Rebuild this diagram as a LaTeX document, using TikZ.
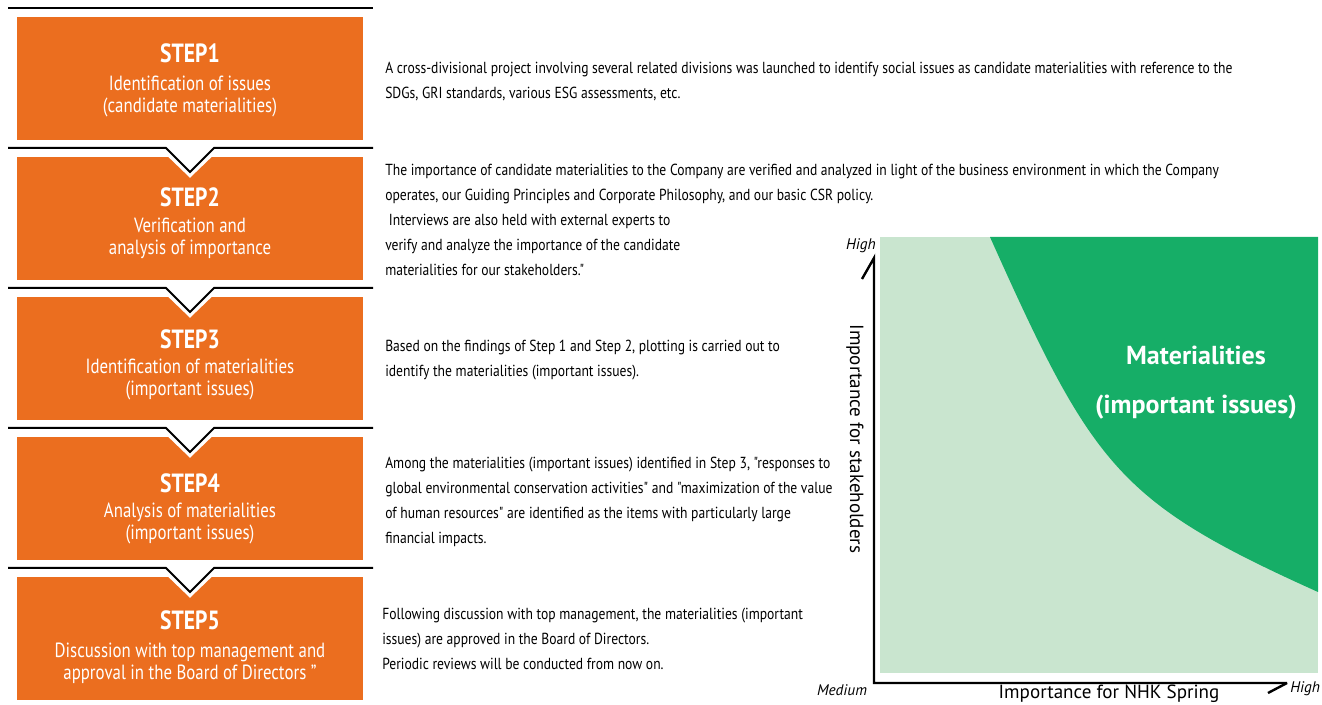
\documentclass[tikz,border=0pt]{standalone}
\usepackage{fontspec}
\setmainfont{PT Sans}[FakeStretch=0.82]
\newfontfamily\descfont{PT Sans}[FakeStretch=0.85]
\newfontfamily\axisfont{PT Sans}
\usetikzlibrary{positioning}
\definecolor{stepOrange}{HTML}{EB6E1F}
\definecolor{matGreen}{HTML}{16AE67}
\definecolor{paleGreen}{HTML}{C9E5CF}
\tikzset{
    every picture/.style={x=0.75pt,y=-0.75pt},
}

\begin{document}
\begin{tikzpicture}[stepbox/.style={fill=stepOrange,minimum width=259.5pt,minimum height=92.25pt,inner sep=0pt},
steptext/.style={text=white,align=center,font=\fontsize{15.4}{16.5}\selectfont},
sepline/.style={line width=1.5pt},
desc/.style={anchor=west,align=left,inner sep=0pt,font=\descfont\fontsize{12}{18.75}\selectfont},
axisline/.style={line width=1.8pt},
tick/.style={font=\axisfont\fontsize{11.5}{12}\selectfont\itshape,inner sep=0pt}]
\useasboundingbox (0,0) rectangle (1322,705);

% steps on the left
\draw[sepline] (8,8) -- (373,8);
\node[stepbox] (s1) at (190,78.5) {};
\node[stepbox] (s2) at (190,218.5) {};
\node[stepbox] (s3) at (190,358.5) {};
\node[stepbox] (s4) at (190,498.5) {};
\node[stepbox] (s5) at (190,638.5) {};
\foreach \y in {148,288,428,568} {
  \draw[white,line width=3pt] (164,\y+2) -- (190,\y+27) -- (216,\y+2);
  \fill[white] (166,\y) -- (190,\y+24) -- (214,\y) -- cycle;
  \draw[sepline] (8,\y) -- (166,\y) -- (190,\y+24) -- (214,\y) -- (373,\y);
}

\node[steptext] (t1) at ([yshift=-1.5pt]s1.center) {{\fontsize{19.75}{20}\selectfont\bfseries STEP1}\\[5pt]Identification of issues\\(candidate materialities)};
\node[steptext] (t2) at ([yshift=-3.5pt]s2.center) {{\fontsize{19.75}{20}\selectfont\bfseries STEP2}\\[3pt]Verification and\\analysis of importance};
\node[steptext] (t3) at ([yshift=-5pt]s3.center) {{\fontsize{19.75}{20}\selectfont\bfseries STEP3}\\[2pt]Identification of materialities\\(important issues)};
\node[steptext] (t4) at ([yshift=-8pt]s4.center) {{\fontsize{19.75}{20}\selectfont\bfseries STEP4}\\[2pt]Analysis of materialities\\(important issues)};
\node[steptext] (t5) at ([yshift=-6.5pt]s5.center) {{\fontsize{19.75}{20}\selectfont\bfseries STEP5}\\[4pt]Discussion with top management and\\approval in the Board of Directors "};

% descriptions
\node[desc] (d1) at (385,82) {A cross-divisional project involving several related divisions was launched to identify social issues as candidate materialities with reference to the\\SDGs, GRI standards, various ESG assessments, etc.};
\node[desc] (d2) at (385,219.5) {The importance of candidate materialities to the Company are verified and analyzed in light of the business environment in which the Company\\operates, our Guiding Principles and Corporate Philosophy, and our basic CSR policy.\\\ Interviews are also held with external experts to\\verify and analyze the importance of the candidate\\materialities for our stakeholders."};
\node[desc] (d3) at (385,360) {Based on the findings of Step 1 and Step 2, plotting is carried out to\\identify the materialities (important issues).};
\node[desc] (d4) at (385,501.5) {Among the materialities (important issues) identified in Step 3, "responses to\\global environmental conservation activities" and "maximization of the value\\of human resources" are identified as the items with particularly large\\financial impacts.};
\node[desc] (d5) at (382,639) {Following discussion with top management, the materialities (important\\issues) are approved in the Board of Directors.\\Periodic reviews will be conducted from now on.};

% materiality chart
\fill[paleGreen] (880,237) rectangle (1318,673);
\fill[matGreen] (990,237) .. controls (1093,467) and (1118,502) .. (1318,592) -- (1318,237) -- cycle;
\node[text=white,align=center,font=\axisfont\fontsize{19.5}{36.75}\selectfont\bfseries] (mat) at (1196,383) {Materialities\\(important issues)};

\coordinate (origin) at (874,683);
\coordinate (ytip) at (874,258);
\coordinate (xtip) at (1287,683);
\draw[axisline] (xtip) -- (origin) -- (ytip) -- ++(-12,21);
\draw[axisline] (xtip) -- ++(-19,10);

\node[tick,anchor=east] (yhigh) at (876,246) {High};
\node[tick] (medium) at (842,690) {Medium};
\node[tick,anchor=west] (xhigh) at (1290,689) {High};
\node[font=\axisfont\fontsize{14.3}{15}\selectfont,rotate=-90] (ylab) at (855,439) {Importance for stakeholders};
\node[font=\axisfont\fontsize{14.3}{15}\selectfont,inner sep=0pt] (xlab) at (1109,694) {Importance for NHK Spring};
\end{tikzpicture}
\end{document}
